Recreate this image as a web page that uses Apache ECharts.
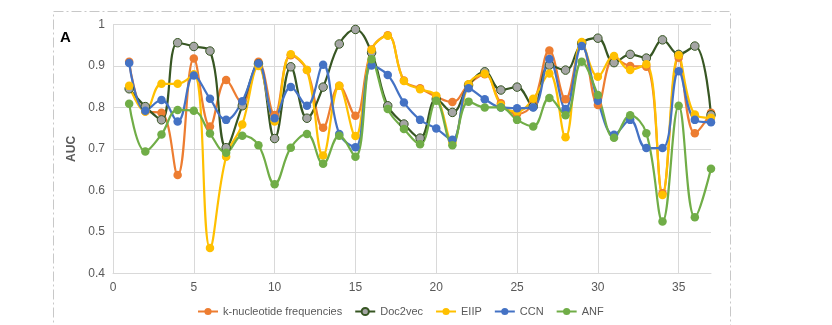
<!DOCTYPE html>
<html><head><meta charset="utf-8">
<script src="https://cdn.jsdelivr.net/npm/echarts@6/dist/echarts.min.js"></script>
<style>html,body{margin:0;padding:0;background:#fff}#c{width:832px;height:325px}</style>
</head><body><div id="c"></div>
<script>
const xs = [1,2,3,4,5,6,7,8,9,10,11,12,13,14,15,16,17,18,19,20,21,22,23,24,25,26,27,28,29,30,31,32,33,34,35,36,37];
const kmer = [0.91,0.79,0.787,0.637,0.918,0.754,0.866,0.81,0.91,0.782,0.926,0.89,0.751,0.852,0.78,0.94,0.974,0.865,0.846,0.826,0.813,0.855,0.88,0.81,0.784,0.81,0.937,0.82,0.955,0.806,0.92,0.9,0.898,0.593,0.92,0.738,0.787];
const doc2vec = [0.845,0.802,0.77,0.956,0.947,0.936,0.703,0.804,0.905,0.725,0.898,0.774,0.849,0.953,0.988,0.932,0.804,0.76,0.726,0.82,0.788,0.854,0.886,0.842,0.849,0.802,0.902,0.89,0.955,0.967,0.908,0.928,0.919,0.963,0.928,0.948,0.782];
const eiip = [0.852,0.79,0.857,0.857,0.88,0.461,0.681,0.759,0.9,0.766,0.928,0.89,0.684,0.852,0.731,0.939,0.973,0.864,0.844,0.828,0.715,0.856,0.881,0.806,0.79,0.821,0.882,0.728,0.958,0.874,0.924,0.89,0.904,0.589,0.926,0.783,0.775];
const ccn = [0.907,0.792,0.818,0.766,0.877,0.821,0.77,0.815,0.906,0.774,0.849,0.804,0.903,0.736,0.704,0.901,0.878,0.812,0.77,0.749,0.722,0.846,0.82,0.8,0.798,0.8,0.917,0.796,0.948,0.816,0.734,0.77,0.702,0.702,0.887,0.77,0.764];
const anf = [0.809,0.694,0.735,0.794,0.792,0.737,0.691,0.732,0.709,0.615,0.703,0.736,0.664,0.732,0.681,0.916,0.796,0.748,0.711,0.816,0.709,0.814,0.8,0.8,0.77,0.754,0.823,0.781,0.91,0.83,0.727,0.781,0.738,0.525,0.804,0.535,0.652];
const seriesNames = ['k-nucleotide frequencies','Doc2vec','EIIP','CCN','ANF'];
const yTicks = [0.4,0.5,0.6,0.7,0.8,0.9,1];

const colors = ['#ED7D31','#375623','#FFC000','#4472C4','#70AD47'];
const datasets = [kmer, doc2vec, eiip, ccn, anf];
const chart = echarts.init(document.getElementById('c'), null, {renderer:'canvas'});
const series = datasets.map((d,i)=>({
  name: seriesNames[i], type:'line', smooth:0.4,
  data: d.map((v,j)=>[xs[j], v]),
  symbol:'circle', symbolSize: 8.5,
  lineStyle:{color: colors[i], width:2.2},
  itemStyle: i===1 ? {color:'#A5A5A5', borderColor:'#375623', borderWidth:1} : {color: colors[i], borderWidth:0},
  emphasis:{disabled:true}
}));
chart.setOption({
  animation:false,
  graphic:[
    {type:'rect', shape:{x:53.5,y:11.5,width:677,height:340}, style:{fill:null, stroke:'#c8c8c8', lineWidth:1, lineDash:[10,3,2,3]}},
    {type:'text', left:60, top:30, style:{text:'A', font:'bold 15px "Liberation Sans", Arial, sans-serif', fill:'#000'}}
  ],
  grid:{left:113, right:121, top:24.5, bottom:51.7},
  legend:{bottom:3, left:192, itemWidth:20, itemHeight:9, itemGap:12,
    textStyle:{color:'#595959', fontSize:11, fontFamily:'"Liberation Sans", Arial, sans-serif'},
    data: seriesNames},
  xAxis:{type:'value', min:0, max:37, interval:5,
    axisLine:{show:true, lineStyle:{color:'#d9d9d9'}}, axisTick:{show:false},
    axisLabel:{color:'#595959', fontSize:12, margin:8, fontFamily:'"Liberation Sans", Arial, sans-serif',
      formatter:v=> (v%5===0 ? String(v) : '')},
    splitLine:{show:true, lineStyle:{color:['#d9d9d9','#d9d9d9','#d9d9d9','#d9d9d9','#d9d9d9','#d9d9d9','#d9d9d9','#d9d9d9','rgba(0,0,0,0)'], width:1}}},
  yAxis:{type:'value', min:yTicks[0], max:yTicks[yTicks.length-1], interval:0.1,
    name:'AUC', nameLocation:'middle', nameGap:28, nameRotate:90,
    nameTextStyle:{color:'#595959', fontWeight:'bold', fontSize:12, fontFamily:'"Liberation Sans", Arial, sans-serif'},
    axisLine:{show:false}, axisTick:{show:false},
    axisLabel:{color:'#595959', fontSize:12, margin:8, fontFamily:'"Liberation Sans", Arial, sans-serif',
      formatter:v=> String(Math.round(v*10)/10)},
    splitLine:{show:true, lineStyle:{color:'#d9d9d9', width:1}}},
  series
});
</script></body></html>
